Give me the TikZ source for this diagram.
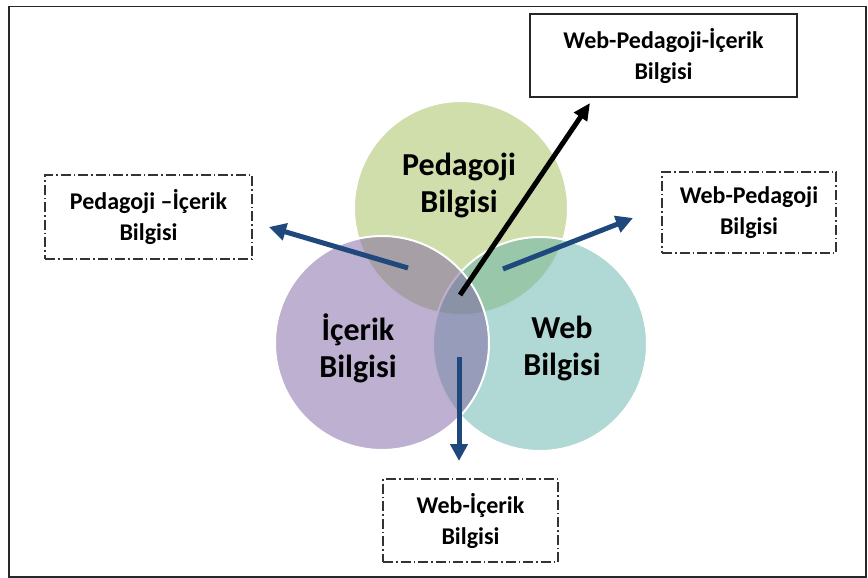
\documentclass[tikz,border=0pt]{standalone}
\usepackage{fontspec}
\setmainfont{Carlito}
\usetikzlibrary{arrows.meta}
\definecolor{pedgreen}{RGB}{208,222,172}
\definecolor{webteal}{RGB}{97,177,169}
\definecolor{icpurple}{RGB}{125,97,161}
\definecolor{arrblue}{RGB}{31,73,125}
\definecolor{framegray}{RGB}{40,40,40}

\begin{document}
\begin{tikzpicture}[x=1pt, y=-1pt,
  venn/.style={circle, draw=white, line width=2pt, minimum size=214pt, inner sep=0pt},
  biglbl/.style={align=center, font=\fontsize{32}{37}\selectfont\bfseries, inner sep=0pt},
  box/.style={draw=black!85, line width=1.3pt, minimum width=#1, minimum height=83pt, align=center, font=\fontsize{24}{31}\selectfont\bfseries, inner sep=0pt},
  dashbox/.style={box=#1, draw=black!80, dash pattern=on 10pt off 3pt on 1.5pt off 3pt},
  arr/.style={-{Triangle[length=17pt, width=17pt]}, line width=5pt, color=arrblue},
  mainarr/.style={-{Triangle[length=17pt, width=15pt]}, line width=5pt, color=black},
]
\useasboundingbox (0,0) rectangle (868,578);
\draw[framegray, line width=1.5pt] (9,6.5) rectangle (866,577);

% --- three overlapping areas ---
\node[venn, fill=pedgreen] (ped) at (461,208) {};
\node[venn, fill=webteal, fill opacity=0.5] (web) at (540,344) {};
\node[venn, fill=icpurple, fill opacity=0.5] (ic) at (382,343) {};

\node[biglbl] (pedlbl) at (459,185) {Pedagoji\\Bilgisi};
\node[biglbl] (iclbl) at (358,348) {İçerik\\Bilgisi};
\node[biglbl] (weblbl) at (562,348) {Web\\Bilgisi};

% --- combined knowledge boxes ---
\node[box=267pt] (wpi) at (663.5,55.5) {Web-Pedagoji-İçerik\\Bilgisi};
\node[dashbox=207pt, minimum height=84pt] (pi) at (148.5,217) {Pedagoji –İçerik\\Bilgisi};
\node[dashbox=174pt, minimum height=81pt] (wp) at (749,212.5) {Web-Pedagoji\\Bilgisi};
\node[dashbox=175pt] (wi) at (470.5,520.5) {Web-İçerik\\Bilgisi};

% --- arrows out of the overlaps ---
\coordinate (pi-from) at (408,268);
\coordinate (pi-to) at (269,227);
\coordinate (wp-from) at (503,269);
\coordinate (wp-to) at (633,218);
\coordinate (wi-from) at (459,357);
\coordinate (wi-to) at (459,461);
\coordinate (wpi-from) at (460,295);
\coordinate (wpi-to) at (590,103);

\draw[arr] (pi-from) -- (pi-to);
\draw[arr] (wp-from) -- (wp-to);
\draw[arr] (wi-from) -- (wi-to);
\draw[mainarr] (wpi-from) -- (wpi-to);

\end{tikzpicture}
\end{document}
